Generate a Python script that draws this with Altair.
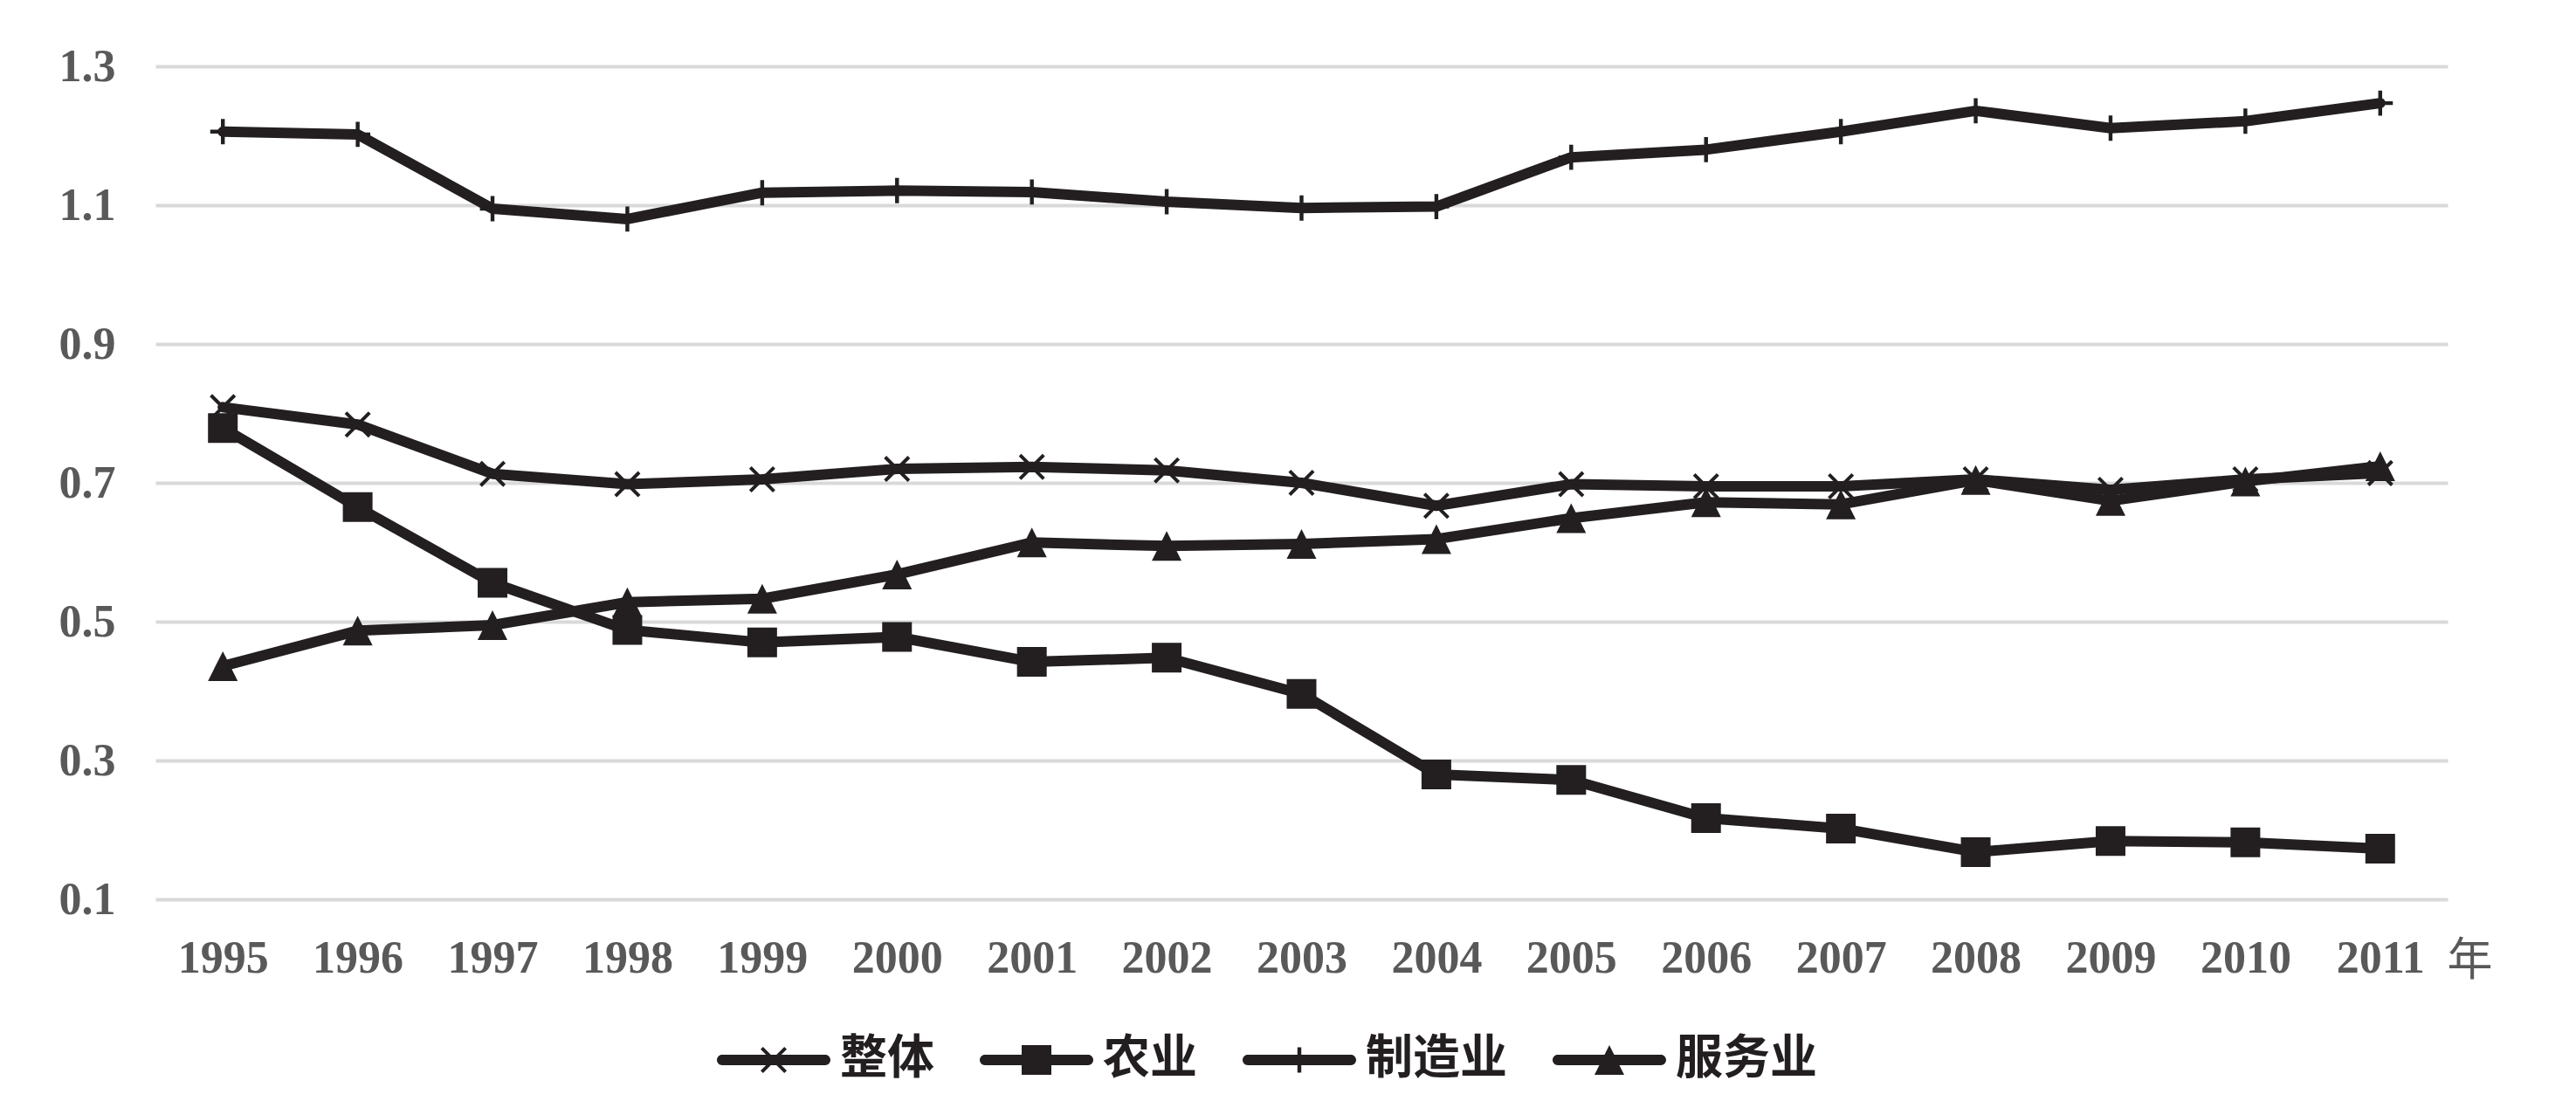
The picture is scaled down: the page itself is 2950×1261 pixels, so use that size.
import altair as alt
import pandas as pd

years = ["1995", "1996", "1997", "1998", "1999", "2000", "2001", "2002", "2003",
         "2004", "2005", "2006", "2007", "2008", "2009", "2010", "2011"]
series = ["整体", "农业", "制造业", "服务业"]

overall = [0.809, 0.784, 0.713, 0.698, 0.705, 0.720, 0.723, 0.718, 0.700,
           0.667, 0.698, 0.695, 0.695, 0.705, 0.690, 0.705, 0.714]
agriculture = [0.779, 0.665, 0.556, 0.488, 0.470, 0.478, 0.442, 0.448, 0.396,
               0.280, 0.272, 0.217, 0.202, 0.168, 0.184, 0.182, 0.173]
manufacturing = [1.206, 1.202, 1.095, 1.080, 1.118, 1.121, 1.119, 1.105, 1.096,
                 1.098, 1.169, 1.180, 1.206, 1.236, 1.211, 1.221, 1.247]
services = [0.436, 0.487, 0.495, 0.528, 0.533, 0.568, 0.614, 0.609, 0.612,
            0.619, 0.649, 0.672, 0.669, 0.704, 0.674, 0.702, 0.724]

y_ticks = [0.1, 0.3, 0.5, 0.7, 0.9, 1.1, 1.3]

rows = []
for name, vals in zip(series, [overall, agriculture, manufacturing, services]):
    for yr, v in zip(years, vals):
        rows.append({"year": yr, "value": v, "series": name})
df = pd.DataFrame(rows)

INK = "#231f20"
GRAY = "#595959"

# marker shapes (unit box -1..1)
marker_paths = [
    "M0.883,0.717L0.717,0.883L-0.883,-0.717L-0.717,-0.883Z"
    "M0.717,-0.883L0.883,-0.717L-0.717,0.883L-0.883,0.717Z",
    "M-1,-1H1V1H-1Z",
    "M-0.13,-0.85H0.13V-0.13H0.85V0.13H0.13V0.85H-0.13V0.13H-0.85V-0.13H-0.13Z",
    "M0,-1L1,1H-1Z",
]

line_seg = ("M-0.908,-0.092H0.908A0.092,0.092,0,0,1,0.908,0.092"
            "H-0.908A0.092,0.092,0,0,1,-0.908,-0.092Z")
legend_paths = [
    line_seg + "M0.231,0.1875L0.1875,0.231L-0.231,-0.1875L-0.1875,-0.231Z"
               "M0.1875,-0.231L0.231,-0.1875L-0.1875,0.231L-0.231,0.1875Z",
    line_seg + "M-0.2615,-0.2615H0.2615V0.2615H-0.2615Z",
    line_seg + "M-0.034,-0.222H0.034V-0.034H0.222V0.034H0.034V0.222H-0.034V0.034H-0.222V-0.034H-0.034Z",
    line_seg + "M0,-0.2615L0.2615,0.2615H-0.2615Z",
]

base = alt.Chart(df).encode(
    x=alt.X(
        "year:O",
        sort=years,
        scale=alt.Scale(type="point", padding=0.5),
        axis=alt.Axis(
            title="年",
            titleX=2650,
            titleY=70,
            titleAlign="center",
            titleBaseline="middle",
            titleFont="Noto Sans CJK SC",
            titleFontSize=52,
            titleFontWeight="normal",
            titleColor=GRAY,
            labelFont="Liberation Serif",
            labelFontSize=52,
            labelFontWeight="bold",
            labelColor=GRAY,
            labelPadding=42,
            labelAngle=0,
            ticks=False,
            tickSize=0,
            domain=False,
            grid=False,
        ),
    ),
    y=alt.Y(
        "value:Q",
        scale=alt.Scale(domain=[0.1, 1.3], nice=False, zero=False),
        axis=alt.Axis(
            title=None,
            values=y_ticks,
            format=".1f",
            labelFont="Liberation Serif",
            labelFontSize=52,
            labelFontWeight="bold",
            labelColor=GRAY,
            labelPadding=46,
            ticks=False,
            tickSize=0,
            domain=False,
            grid=True,
            gridColor="#d9d9d9",
            gridWidth=4,
        ),
    ),
)

lines = base.mark_line(
    color=INK, strokeWidth=12, strokeJoin="round", strokeCap="round"
).encode(detail="series:N")

markers = base.mark_point(filled=True, color=INK, opacity=1, size=1156).encode(
    shape=alt.Shape(
        "series:N",
        scale=alt.Scale(domain=series, range=marker_paths),
        legend=None,
    )
)

legend_layer = base.mark_point(filled=True, color=INK, opacity=0, size=10).encode(
    shape=alt.Shape(
        "series:N",
        scale=alt.Scale(domain=series, range=legend_paths),
        legend=alt.Legend(
            title=None,
            orient="none",
            legendX=643,
            legendY=1073,
            direction="horizontal",
            columns=4,
            symbolSize=16900,
            symbolOpacity=1,
            symbolFillColor=INK,
            symbolStrokeWidth=0,
            labelFont="Noto Sans CJK SC",
            labelFontSize=54,
            labelFontWeight="bold",
            labelColor=INK,
            labelOffset=11,
            labelLimit=0,
            columnPadding=52,
            padding=0,
        ),
    )
)

chart = (
    alt.layer(lines, markers, legend_layer)
    .resolve_scale(shape="independent")
    .properties(
        width=2625,
        height=954,
        padding={"left": 170, "top": 68, "right": 110, "bottom": 220},
        autosize=alt.AutoSizeParams(type="none"),
        background="white",
    )
    .configure_view(stroke=None)
)

chart.save("out.html", embed_options={"renderer": "svg", "actions": False})
